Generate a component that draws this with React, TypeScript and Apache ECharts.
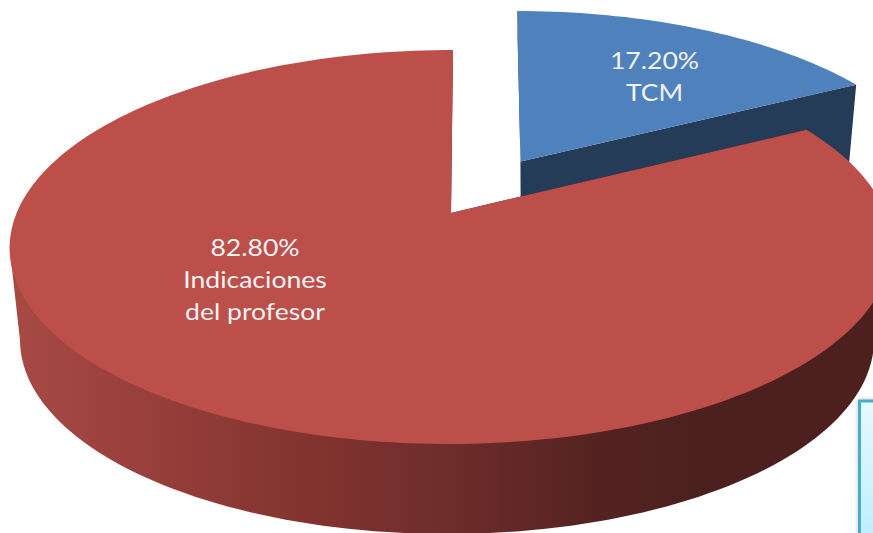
import React, { useEffect, useRef } from "react";
import * as echarts from "echarts";

const sliceNames = ["TCM", "Indicaciones\ndel profesor"];
const sliceValues = [17.2, 82.8];

const W = 873;
const H = 533;
const PERSPECTIVE = 0.173;
const FRONT_START = 100;
const FRONT_END = 260;

const frames = [
  {
    top: { cx: 521.2, cy: 193, rx: 420, ry: 182, s: -4.2 },
    bottom: { cx: 521, cy: 270, rx: 409, ry: 179, s: -1 },
    label: [654.5, 76],
    face: "#4F81BD",
    side: "#253C59",
  },
  {
    top: { cx: 450.6, cy: 247, rx: 441, ry: 197, s: 2.4 },
    bottom: { cx: 447, cy: 340, rx: 427, ry: 194, s: 0 },
    label: [255, 279],
    face: "#BD4F4B",
    side: "#4B201F",
  },
];

const wallStops = [
  { offset: 0, color: "#A84A44" },
  { offset: 0.16, color: "#973F3B" },
  { offset: 0.34, color: "#82332F" },
  { offset: 0.5, color: "#6E2D2B" },
  { offset: 0.66, color: "#552321" },
  { offset: 0.78, color: "#4B201F" },
  { offset: 1, color: "#4B201F" },
];

type Frame = { cx: number; cy: number; rx: number; ry: number; s: number };

function project(f: Frame, r: number, deg: number): number[] {
  const t = (deg * Math.PI) / 180;
  const x = r * Math.sin(t);
  const y = r * Math.cos(t);
  const c = PERSPECTIVE;
  const d = 1 + c * y;
  const X = (x * Math.sqrt(1 - c * c)) / d;
  const Y = (y + c) / d;
  return [f.cx + f.rx * X + f.s * Y, f.cy - f.ry * Y];
}

function rim(f: Frame, a0: number, a1: number, r = 1): number[][] {
  const pts: number[][] = [];
  const n = Math.max(2, Math.ceil((a1 - a0) / 1.5));
  for (let i = 0; i <= n; i++) pts.push(project(f, r, a0 + ((a1 - a0) * i) / n));
  return pts;
}

const total = sliceValues.reduce((a, b) => a + b, 0);

function renderSlice(_params: any, api: any) {
  const i = api.value(1) as number;
  const before = sliceValues.slice(0, i).reduce((a, b) => a + b, 0);
  const a0 = (before / total) * 360;
  const a1 = a0 + ((api.value(0) as number) / total) * 360;
  const fr = frames[i];
  const children: any[] = [];

  const cut = (deg: number) => ({
    type: "polygon",
    shape: {
      points: [
        project(fr.top, 0.9, deg),
        project(fr.top, 1, deg),
        project(fr.bottom, 1, deg),
        project(fr.bottom, 0, 0),
        project(fr.top, 0, 0),
      ],
    },
    style: { fill: fr.side },
  });
  children.push(cut(a0), cut(a1));

  const w0 = Math.max(a0, FRONT_START);
  const w1 = Math.min(a1, FRONT_END);
  if (w1 > w0) {
    const pts = [
      project(fr.top, 1, w0),
      ...rim(fr.top, w0, w1, 0.97),
      project(fr.top, 1, w1),
      ...rim(fr.bottom, w0, w1).reverse(),
    ];
    children.push({
      type: "polygon",
      shape: { points: pts },
      style: { fill: new echarts.graphic.LinearGradient(0, 0, 1, 0, wallStops) },
    });
  }

  children.push({
    type: "polygon",
    shape: { points: [project(fr.top, 0, 0), ...rim(fr.top, a0, a1)] },
    style: { fill: fr.face },
  });

  children.push({
    type: "text",
    x: fr.label[0],
    y: fr.label[1],
    scaleX: 1.155,
    style: {
      text: `${(api.value(0) as number).toFixed(2)}%\n${sliceNames[i]}`,
      x: 0,
      y: 0,
      fill: "#F2F2F2",
      font: '23px Lato, "Open Sans", sans-serif',
      align: "center",
      verticalAlign: "middle",
      lineHeight: 32,
    },
  });

  return { type: "group", children };
}

export default function App() {
  const ref = useRef<HTMLDivElement | null>(null);

  useEffect(() => {
    document.body.style.margin = "0";
    document.body.style.background = "#ffffff";
    const chart = echarts.init(ref.current as HTMLDivElement, null, { renderer: "svg" });
    chart.setOption({
      animation: false,
      backgroundColor: "#ffffff",
      series: [
        {
          type: "custom",
          coordinateSystem: "none",
          silent: true,
          clip: false,
          renderItem: renderSlice,
          data: sliceValues.map((v, i) => [v, i]),
        },
      ],
      graphic: [
        {
          type: "rect",
          silent: true,
          z: 10,
          shape: { x: 859.5, y: 401, width: 40, height: 150 },
          style: {
            fill: new echarts.graphic.LinearGradient(0, 0, 0, 1, [
              { offset: 0, color: "#E6F9FF" },
              { offset: 1, color: "#B9EEFF" },
            ]),
            stroke: "#4BACC6",
            lineWidth: 3,
            shadowBlur: 4,
            shadowColor: "rgba(0,0,0,0.25)",
          },
        },
      ],
    });
    return () => chart.dispose();
  }, []);

  return <div ref={ref} style={{ position: "absolute", left: 0, top: 0, width: W, height: H, overflow: "hidden" }} />;
}
